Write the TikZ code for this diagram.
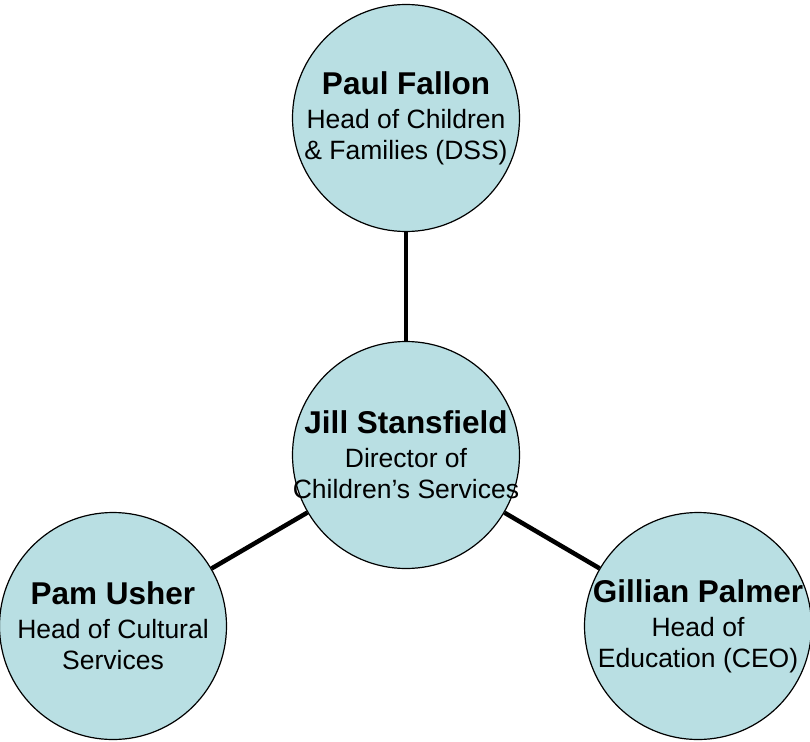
\documentclass[tikz,border=0pt]{standalone}
\usepackage{fontspec}
\setmainfont{Liberation Sans}
\usepackage{tikz}
\definecolor{staffblue}{RGB}{185,223,227}

\begin{document}
\begin{tikzpicture}[x=1pt, y=-1pt,
			person/.style={circle, draw, line width = 1.2pt, fill = staffblue, minimum size=227pt, inner sep=0pt},
			who/.style={align = center, inner sep=0pt, font=\fontsize{26.5}{31}\selectfont},
			link/.style={line width = 4.5pt}
		]

		\useasboundingbox (0,0) rectangle (810,741);

		\node[person] (paul) at (406,118) {};
		\node[person] (jill) at (406,455) {};
		\node[person] (pam) at (113,626) {};
		\node[person] (gillian) at (698,626) {};

		\draw[link] (jill) -- (paul);
		\draw[link] (jill) -- (pam);
		\draw[link] (jill) -- (gillian);

		\node[who] (paultext) at (paul) {{\bfseries\fontsize{31.5}{34}\selectfont Paul Fallon}\\[3pt] Head of Children \\ \& Families (DSS)};
		\node[who] (jilltext) at (jill) {{\bfseries\fontsize{31.5}{34}\selectfont Jill Stansfield}\\[3pt] Director of \\ Children’s Services};
		\node[who] (pamtext) at (pam) {{\bfseries\fontsize{31.5}{34}\selectfont Pam Usher}\\[3pt] Head of Cultural \\ Services};
		\node[who] (gilliantext) at (gillian) {{\bfseries\fontsize{31.5}{34}\selectfont Gillian Palmer}\\[3pt] Head of \\ Education (CEO)};
	\end{tikzpicture}
\end{document}
